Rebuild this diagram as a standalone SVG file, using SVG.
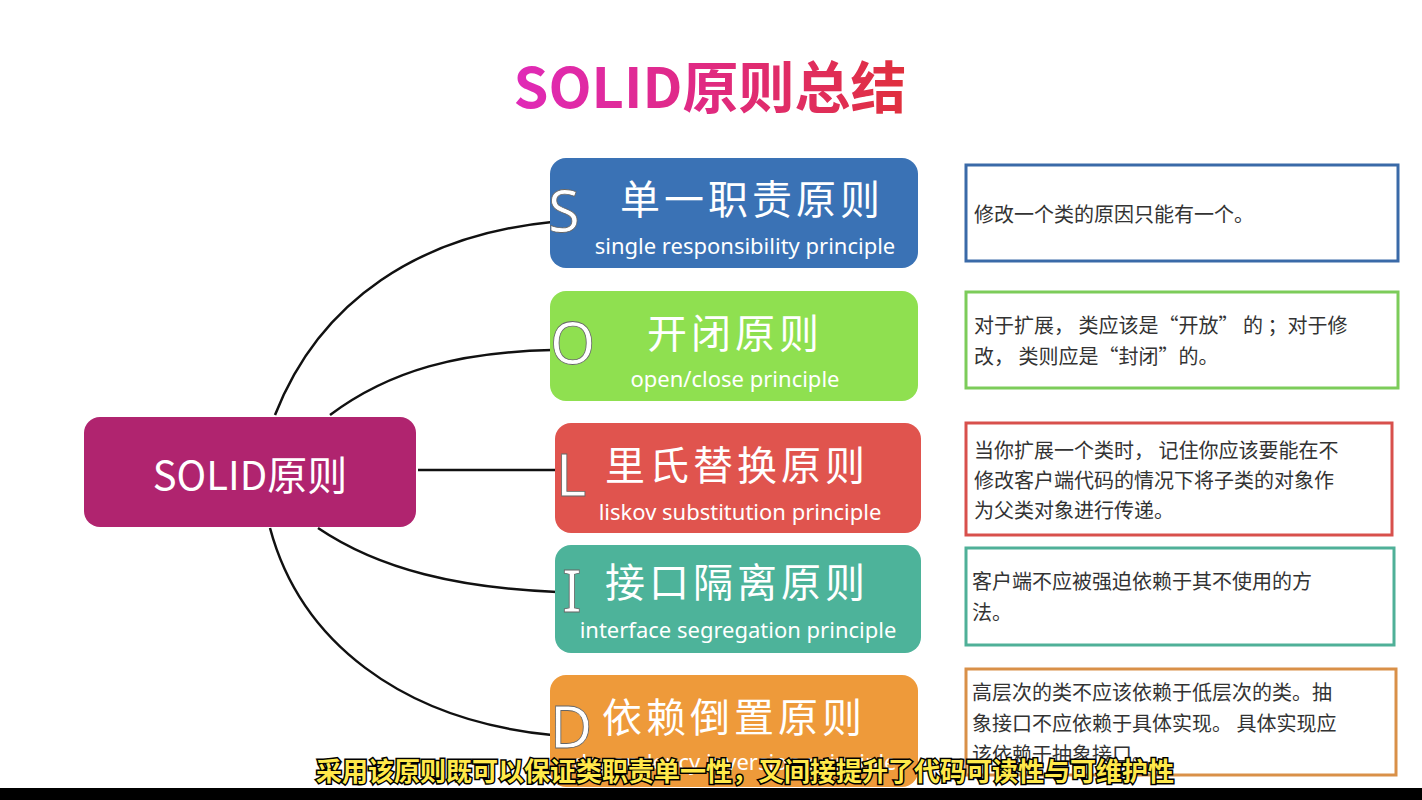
<svg xmlns="http://www.w3.org/2000/svg" width="1422" height="800" viewBox="0 0 1422 800">
<defs>
<linearGradient id="tg" x1="0" x2="1" y1="0" y2="0"><stop offset="0" stop-color="#e02ab8"/><stop offset="0.5" stop-color="#e02a80"/><stop offset="1" stop-color="#e0303c"/></linearGradient>
<style>
.cn{font-family:"Noto Sans CJK SC",sans-serif}
.t{font-family:"Noto Sans CJK SC",sans-serif;fill:#fff;font-size:40px}
.en{font-family:"Noto Sans","Open Sans",sans-serif;fill:#fff;font-size:22px}
.big{font-family:"Noto Sans",sans-serif;fill:#fff;font-size:58px;stroke:#666;stroke-width:0.8}
.d{font-family:"Noto Sans CJK SC",sans-serif;fill:#333;font-size:20px}
.db{fill:#fff;stroke-width:3}
.c{fill:none;stroke:#111;stroke-width:2.5}
</style>
</defs>
<rect width="1422" height="800" fill="#fff"/>
<text x="710" y="108" text-anchor="middle" class="cn" font-size="56" font-weight="bold" fill="url(#tg)">SOLID原则总结</text>
<g id="connectors">
<path class="c" d="M275,415 C320,300 420,235 552,222"/>
<path class="c" d="M330,415 C390,370 460,352 552,350"/>
<path class="c" d="M418,470 L557,470"/>
<path class="c" d="M318,528 C380,570 460,588 557,592"/>
<path class="c" d="M270,528 C300,640 400,720 552,735"/>
</g>
<g id="root"><rect x="84" y="417" width="332" height="110" rx="16" fill="#b0246f"/><text x="250" y="490" text-anchor="middle" class="t">SOLID原则</text></g>
<g id="S"><rect x="550" y="158" width="368" height="110" rx="16" fill="#3a72b5"/><text x="548" y="232" class="big">S</text><text x="620" y="214" class="t" letter-spacing="4">单一职责原则</text><text x="745" y="254" text-anchor="middle" class="en">single responsibility principle</text></g>
<g id="O"><rect x="550" y="291" width="368" height="110" rx="16" fill="#8fe050"/><text x="550" y="364" class="big">O</text><text x="735" y="348" text-anchor="middle" class="t" letter-spacing="4">开闭原则</text><text x="735" y="387" text-anchor="middle" class="en">open/close principle</text></g>
<g id="L"><rect x="555" y="423" width="366" height="110" rx="16" fill="#e0544e"/><text x="556" y="496" class="big">L</text><text x="605" y="480" class="t" letter-spacing="4">里氏替换原则</text><text x="740" y="520" text-anchor="middle" class="en">liskov substitution principle</text></g>
<g id="I"><rect x="555" y="545" width="366" height="108" rx="16" fill="#4db39a"/><text x="562" y="612" class="big">I</text><text x="605" y="597" class="t" letter-spacing="4">接口隔离原则</text><text x="738" y="638" text-anchor="middle" class="en">interface segregation principle</text></g>
<g id="D"><rect x="550" y="675" width="368" height="112" rx="16" fill="#ee9a3a"/><text x="550" y="748" class="big">D</text><text x="602" y="732" class="t" letter-spacing="4">依赖倒置原则</text><text x="735" y="770" text-anchor="middle" class="en">dependency inversion principle</text></g>
<g id="Sd"><rect x="966" y="165" width="432" height="96" class="db" stroke="#3a6aa8"/><text x="974" y="222" class="d">修改一个类的原因只能有一个。</text></g>
<g id="Od"><rect x="966" y="292" width="432" height="96" class="db" stroke="#7ccc5a"/><text x="974" y="333" class="d">对于扩展， 类应该是“开放” 的 ；对于修</text><text x="974" y="364" class="d">改， 类则应是“封闭”的。</text></g>
<g id="Ld"><rect x="966" y="423" width="426" height="112" class="db" stroke="#d8504c"/><text x="974" y="458" class="d">当你扩展一个类时， 记住你应该要能在不</text><text x="974" y="488" class="d">修改客户端代码的情况下将子类的对象作</text><text x="974" y="518" class="d">为父类对象进行传递。</text></g>
<g id="Id"><rect x="966" y="548" width="428" height="97" class="db" stroke="#4fb098"/><text x="972" y="589" class="d">客户端不应被强迫依赖于其不使用的方</text><text x="972" y="620" class="d">法。</text></g>
<g id="Dd"><rect x="966" y="669" width="430" height="106" class="db" stroke="#d99048"/><text x="972" y="700" class="d">高层次的类不应该依赖于低层次的类。抽</text><text x="972" y="731" class="d">象接口不应依赖于具体实现。 具体实现应</text><text x="972" y="762" class="d">该依赖于抽象接口。</text></g>
<rect x="0" y="788" width="1422" height="12" fill="#000"/>
<text x="745" y="781" text-anchor="middle" class="cn" font-size="26" font-weight="bold" fill="#ffe94a" stroke="#000" stroke-width="3" paint-order="stroke">采用该原则既可以保证类职责单一性，又间接提升了代码可读性与可维护性</text>
</svg>
